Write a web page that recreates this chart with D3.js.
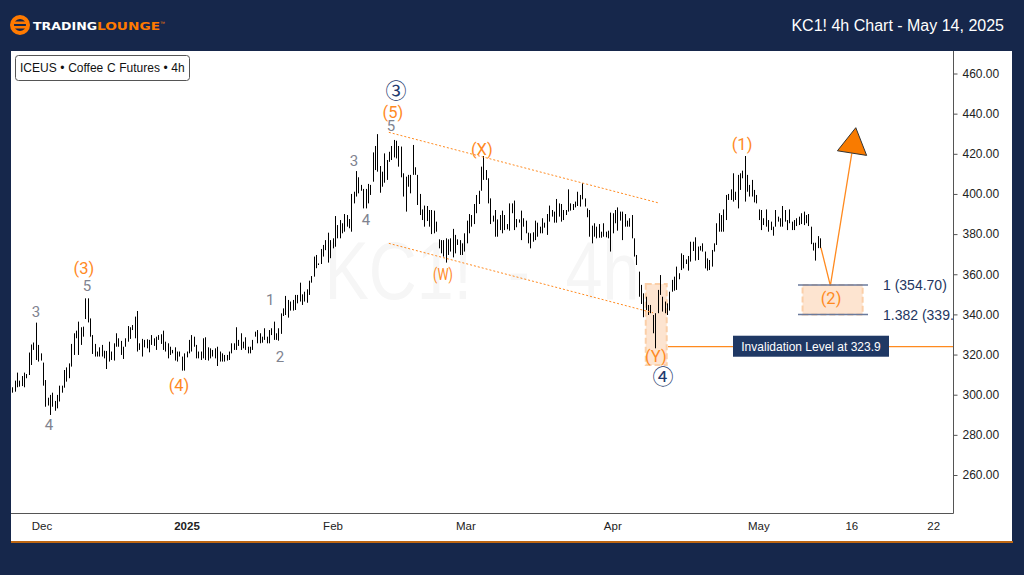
<!DOCTYPE html>
<html>
<head>
<meta charset="utf-8">
<script src="https://cdn.jsdelivr.net/npm/d3@7"></script>
<style>
  html, body { margin: 0; padding: 0; background: #16274b; }
  svg { display: block; font-family: 'Liberation Sans', Arial, sans-serif; }
</style>
</head>
<body>
<div class="chart"></div>
<script>
// 4h bars, in price
const highs = [303.7,307,311,307,309.3,311,310.3,321,325,326,335.9,324.8,320.6,316,307.3,298.5,299.9,301,296.9,299.9,304.5,304.5,312.3,313.6,315.6,325.3,330.6,331.9,336.4,333.6,333.9,348,348,338,329.7,325.3,321.5,323.6,324.8,321.9,321.8,326.4,321.5,325.6,330.6,328.1,326.8,323.9,328.1,334.2,333.6,334.7,338.9,341.7,325.6,327.8,327.3,327.6,327.3,329.7,328.1,328.9,329.7,330.1,331.9,326.4,325.6,323.9,322.3,323.6,321.5,321.5,319,320.6,321.5,327.3,329.7,328.9,324.8,321.5,321.5,328.1,328.6,323.6,323.1,322.3,323.1,323.9,321.5,320.6,319.8,319.8,321.5,325.6,325.6,333.6,327.3,330.6,326.4,328.6,323.9,323.9,327.3,331.4,332.2,330.6,328.9,333.1,328.9,332.2,333.1,336.4,330.6,333.1,340.5,343,349.2,347.2,346.4,347.2,349.7,349.7,355.8,350,351.3,352.5,356.8,359.1,368.8,369.6,365.4,372.6,374.6,377,
  380.7,377,377.9,389,384.5,387,385.4,390,389.5,387.5,400,401.1,411.4,408.3,404.5,402.5,402.5,405,404.5,420.7,423.9,429.8,413.9,411.1,420.2,416.9,421,423.9,426.9,426.5,423.9,423.6,410.3,408.6,409.5,409.5,424.4,413.3,409.5,400,392.3,394.2,394,392,392,391.7,386.2,377.4,377,377,377.9,377.4,377.9,382.6,379.6,377.4,377,375.4,380.4,386.7,390,389.5,395,399.5,401.6,413.6,418.9,411.9,407.8,397.8,389.2,392,387.3,389.5,391.7,389.5,385,395.3,395.3,396.7,387.5,387.3,391.7,387.9,386.7,380.7,380.4,380.9,386.7,385.7,383.7,387.9,385.7,390,394.2,392,391.2,397.5,395.3,395,392,392,402.3,395.3,395,396.2,401.1,399.5,405.3,397.8,392.8,392,384.2,385.4,383.7,385,381.2,385.4,381.2,381.7,390.7,390.4,392,393.3,391.2,391.2,390,386.7,387.9,389.5,377.9,369.6,
  361.3,354.7,350.5,348.8,344.7,344.7,339.7,340.6,352.2,359.6,348.8,346.4,345.5,351.3,357.2,358.8,363.8,360.5,370.4,369.6,367.4,369.1,376.2,376.2,378.4,373.8,374.1,375.4,371.3,367.9,367.1,372.1,375.4,385.4,390.4,389.5,392.3,399.5,400,402.3,410.3,401.1,409.5,410.3,411.6,418.9,409.5,404.5,407,402,399.5,392.3,392,387.9,392.3,387,386.2,383.7,392,388.7,387.9,394,392,387,392.3,386.2,387,387.9,388.7,390.4,391.2,389.5,390,383.7,375.7,375.7,379,377.9]
const lows = [301,301.5,303.7,304,304.3,303.7,308.2,309.8,314.8,322.3,317.3,316.5,317,304.5,294,294.6,289.9,294,292,293.2,296.6,301,303.5,306.5,308.2,314,319.8,328.1,319.8,324.8,328.9,337.7,336,328.9,320.3,319,319,319,319,318.1,312.8,316.5,317.3,317,323.9,323.9,319.8,317.8,323.9,326.4,327.8,332.2,328.1,321.5,322.3,319,323.6,323.1,321.1,324.8,324.3,322.3,327.3,325.3,322.3,321.5,318.1,319.8,320.6,317,316.5,319,312,312,318.6,320.6,321.5,323.9,318.1,318.1,317.3,318.1,317.3,317,318.1,319,318.1,314.3,316.5,316.5,316.5,317,317.3,320.6,322.3,322.3,324.3,322.3,323.1,322.3,320.6,320.6,322.3,328.9,325.6,325.6,325.9,327.3,325.6,325.6,329.7,327.3,327.3,326.9,330.3,339.2,339.7,338.4,341.9,341.9,342.2,345.5,346.4,344.7,346.4,345.8,349.7,355.8,358.8,363,364.6,365.1,368.8,372,
  365.8,368,372.9,373.7,377.9,377.9,380.4,381.2,383.7,382.9,381.2,395.3,398.7,400.3,401.6,392.8,392.8,395.3,399.5,406.1,411.9,411.1,400.6,403.6,405.6,407,416,416.9,418.2,417.7,413.6,408.3,398.7,391.2,403.6,400.3,409.5,409.5,394.5,389.5,387,383.7,386.5,383.7,380,380.4,381.2,372.9,370.4,368.8,365.8,369.6,371.3,368.4,370.4,374.6,369.6,369.6,371.3,375.4,380.4,383.7,385,390.4,395,401.6,407,407,395.3,385,386.2,378.7,378.7,382,380.4,382,382.4,381.7,390.4,382,383.4,385.7,377,383.7,380.4,375.4,372.9,376.2,377,378.7,380.4,380.4,383.2,379.6,386.2,388.7,385.7,385.7,388.7,386.2,387,389.5,391.2,391.7,392,393.3,394,393.7,397.3,393.7,388.4,378.7,375.4,378.7,377.9,378.2,378.2,378.7,378.4,377.9,371.3,380.4,385.4,381.7,386.7,377,383.7,383.7,383.7,377.9,368.8,364.6,
  348.8,345.2,338.6,342.2,339.7,340.6,330.6,323.1,340.6,349.7,341.4,340.6,339.7,341.9,351.3,351.8,352.2,357.5,362.1,362.9,365.1,361.8,366.3,371.6,366.8,367.1,371.8,371.3,362.9,361.8,362.1,363.8,371.3,374.6,381.2,381.2,381.2,387,397,397,396.2,397,392.8,402,407.8,396.2,401.1,398.7,398.7,395.8,395.3,387,382,384.5,383.7,381.2,382,379.2,383.7,386.2,383.7,383.7,386.2,382,385.4,382,382,384,384.5,385,384.5,385.4,384,375,371.8,366.8,373,373]
const priceTicks = [260, 280, 300, 320, 340, 360, 380, 400, 420, 440, 460]
const timeLabels = ['Dec', '2025', 'Feb', 'Mar', 'Apr', 'May', '16', '22']
const timeBars = [12.6, 74.2, 136.2, 192.6, 255, 317, 356.5, 391.3]

// [label, bar, price]
const greyLabels = [['3', 10.1, 341.2], ['5', 31.7, 354.1], ['4', 15.6, 284.9], ['1', 109.5, 347.2], ['2', 113.7, 318.8], ['3', 145.1, 416.4], ['4', 150.2, 387], ['5', 160.8, 433.8]]
const orangeLabels = [['(3)', 30.4, 363.1], ['(4)', 70.8, 304.8], ['(5)', 161.6, 440.8], ['(W)', 182.9, 360.1], ['(X)', 199.4, 422.4], ['(Y)', 273.3, 319.3], ['(1)', 309.9, 424.9], ['(2)', 347.7, 348.2]]
const navyLabels = [['③', 162.9, 451.8], ['④', 276.3, 309.3]]

// channel ends, projection and arrow as [bar, price]
const channelTop = [[159.9, 430.7], [274.2, 395.6]]
const channelBottom = [[159.9, 375.4], [272.1, 340.8]]
const projection = [[343.4, 373.2], [347.4, 354.3], [356.5, 420.2]]
const arrowHead = [[358.2, 433], [350.4, 421.5], [362.8, 419.2]]
const zoneY = [269, 277.9, 355.1, 314.8]
const zoneTwo = [335.6, 361.1, 354.7, 339.9]
const fibLevels = [['1 (354.70)', 354.7], ['1.382 (339.84)', 339.9]]
const invalidation = 323.9

const width = 1024
const height = 575
const margin = { left: 11, right: 953, top: 51, bottom: 513 }
const navy = '#16274b'
const orange = '#ff8a1f'

const svg = d3
  .select('.chart')
  .append('svg')
  .attr('width', width)
  .attr('height', height)

svg.append('rect').attr('width', width).attr('height', height).attr('fill', navy)
svg
  .append('rect')
  .attr('x', margin.left)
  .attr('y', margin.top)
  .attr('width', 1012 - margin.left)
  .attr('height', 541 - margin.top)
  .attr('fill', '#fff')
svg
  .append('line')
  .attr('x1', margin.left)
  .attr('x2', 1013)
  .attr('y1', 542)
  .attr('y2', 542)
  .style('stroke', '#f57c00')
  .style('stroke-width', 1.5)

const x = d3
  .scaleLinear()
  .domain([0, highs.length - 1])
  .range([12.3, 820])
const y = d3.scaleLinear().domain([460, 260]).range([73.5, 475])

svg
  .append('defs')
  .append('clipPath')
  .attr('id', 'plot')
  .append('rect')
  .attr('x', margin.left)
  .attr('y', margin.top)
  .attr('width', margin.right - margin.left)
  .attr('height', margin.bottom - margin.top)

const plot = svg.append('g').attr('clip-path', 'url(#plot)')

// watermark
plot
  .append('text')
  .attr('transform', 'translate(482,298.5) scale(0.82,1)')
  .attr('text-anchor', 'middle')
  .attr('font-size', 81)
  .attr('word-spacing', 21)
  .attr('fill', '#f6f6f6')
  .text('KC1! - 4h')

// target zones
function zone(z) {
  plot
    .append('rect')
    .attr('x', x(z[0]))
    .attr('y', y(z[2]))
    .attr('width', x(z[1]) - x(z[0]))
    .attr('height', y(z[3]) - y(z[2]))
    .attr('fill', '#fde4d0')
    .attr('stroke', '#fbcfa8')
    .attr('stroke-width', 2)
    .attr('stroke-dasharray', '6,3')
}
zone(zoneY)
zone(zoneTwo)

// bars
plot
  .selectAll('.bars')
  .data(highs)
  .enter()
  .append('line')
  .attr('x1', (d, i) => Math.round(x(i)) + 0.5)
  .attr('x2', (d, i) => Math.round(x(i)) + 0.5)
  .attr('y1', (d) => y(d))
  .attr('y2', (d, i) => y(lows[i]))
  .style('stroke', '#000')
  .style('stroke-width', 1)

const line = d3
  .line()
  .x((d) => x(d[0]))
  .y((d) => y(d[1]))

plot
  .selectAll('.channel')
  .data([channelTop, channelBottom])
  .enter()
  .append('path')
  .attr('d', line)
  .attr('fill', 'none')
  .attr('stroke', orange)
  .attr('stroke-width', 1)
  .attr('stroke-dasharray', '2,2')

plot
  .append('path')
  .attr('d', line(projection))
  .attr('fill', 'none')
  .attr('stroke', orange)
  .attr('stroke-width', 1.3)

plot
  .append('path')
  .attr('d', line(arrowHead) + 'Z')
  .attr('fill', '#f97b00')
  .attr('stroke', '#333')
  .attr('stroke-width', 1)

// fib lines and labels
fibLevels.forEach((f) => {
  plot
    .append('line')
    .attr('x1', 798)
    .attr('x2', 868)
    .attr('y1', y(f[1]))
    .attr('y2', y(f[1]))
    .style('stroke', '#6a7a9c')
    .style('stroke-width', 1.5)
  plot
    .append('text')
    .attr('x', 883)
    .attr('y', y(f[1]) + 5)
    .attr('font-size', 14)
    .attr('fill', '#24365f')
    .text(f[0])
})

// invalidation level
plot
  .append('line')
  .attr('x1', 668)
  .attr('x2', margin.right)
  .attr('y1', y(invalidation))
  .attr('y2', y(invalidation))
  .style('stroke', orange)
  .style('stroke-width', 1.2)
plot
  .append('rect')
  .attr('x', 733)
  .attr('y', y(invalidation) - 11)
  .attr('width', 156)
  .attr('height', 21)
  .attr('fill', '#1f3864')
plot
  .append('text')
  .attr('x', 811)
  .attr('y', y(invalidation) + 4)
  .attr('text-anchor', 'middle')
  .attr('font-size', 12)
  .attr('fill', '#fff')
  .text('Invalidation Level at ' + invalidation)

// wave labels
function labels(rows, size, colour, family) {
  plot
    .selectAll(null)
    .data(rows)
    .enter()
    .append('text')
    .attr('x', (d) => x(d[1]))
    .attr('y', (d) => y(d[2]))
    .attr('dy', '0.36em')
    .attr('text-anchor', 'middle')
    .attr('font-family', family)
    .attr('font-size', size)
    .attr('fill', colour)
    .attr('textLength', (d) => (d[0] === '(W)' ? 20 : null))
    .attr('lengthAdjust', 'spacingAndGlyphs')
    .text((d) => d[0])
}
labels(greyLabels, 15, '#80838f', 'Roboto, sans-serif')
labels(orangeLabels, 16.5, orange, 'Roboto, sans-serif')
labels(navyLabels, 21, '#1f3a6e', 'Noto Sans CJK JP')

// axes
const yAxis = svg
  .append('g')
  .attr('transform', `translate(${margin.right + 0.5},0)`)
  .call(d3.axisRight(y).tickValues(priceTicks).tickSize(4).tickPadding(5).tickFormat(d3.format('.2f')))
yAxis.select('.domain').remove()
yAxis.selectAll('text').attr('font-size', 12).attr('fill', '#222').attr('font-family', 'Liberation Sans')
yAxis.selectAll('line').attr('stroke', '#555')

svg
  .append('path')
  .attr('d', `M${margin.left},${margin.bottom + 0.5}H${margin.right + 0.5}V${margin.top}`)
  .attr('fill', 'none')
  .attr('stroke', '#555')

svg
  .selectAll('.x-label')
  .data(timeLabels)
  .enter()
  .append('text')
  .attr('x', (d, i) => x(timeBars[i]))
  .attr('y', 530)
  .attr('text-anchor', 'middle')
  .attr('font-size', 11.5)
  .attr('font-weight', (d) => (d === '2025' ? 'bold' : 'normal'))
  .attr('fill', '#222')
  .text((d) => d)

// symbol badge
svg
  .append('rect')
  .attr('x', 15.5)
  .attr('y', 55.5)
  .attr('width', 174)
  .attr('height', 25)
  .attr('rx', 3)
  .attr('fill', '#fff')
  .attr('stroke', '#555')
svg
  .append('text')
  .attr('x', 20)
  .attr('y', 72)
  .attr('font-size', 12)
  .attr('word-spacing', 0.3)
  .attr('fill', '#111')
  .text('ICEUS • Coffee C Futures • 4h')

// header
svg
  .append('text')
  .attr('x', 1004)
  .attr('y', 31)
  .attr('text-anchor', 'end')
  .attr('font-size', 16)
  .attr('fill', '#fff')
  .text('KC1! 4h Chart - May 14, 2025')

const logo = svg.append('g')
logo
  .append('circle')
  .attr('cx', 20)
  .attr('cy', 25)
  .attr('r', 8)
  .attr('fill', 'none')
  .attr('stroke', '#ff7a00')
  .attr('stroke-width', 4)
logo.append('rect').attr('x', 12).attr('y', 21.5).attr('width', 16).attr('height', 2.5).attr('fill', '#ff7a00')
logo.append('rect').attr('x', 12).attr('y', 26).attr('width', 16).attr('height', 2.5).attr('fill', '#ff7a00')
logo
  .append('text')
  .attr('x', 33)
  .attr('y', 29.5)
  .attr('font-family', 'DejaVu Sans')
  .attr('font-weight', 'bold')
  .attr('font-size', 11)
  .attr('textLength', 64)
  .attr('lengthAdjust', 'spacingAndGlyphs')
  .attr('fill', '#fff')
  .text('TRADING')
logo
  .append('text')
  .attr('x', 97)
  .attr('y', 29.5)
  .attr('font-family', 'DejaVu Sans')
  .attr('font-weight', 'bold')
  .attr('font-size', 11)
  .attr('textLength', 63)
  .attr('lengthAdjust', 'spacingAndGlyphs')
  .attr('fill', '#ff7a00')
  .text('LOUNGE')
logo
  .append('text')
  .attr('x', 160)
  .attr('y', 25)
  .attr('font-size', 5)
  .attr('fill', '#ff7a00')
  .text('™')
</script>
</body>
</html>
